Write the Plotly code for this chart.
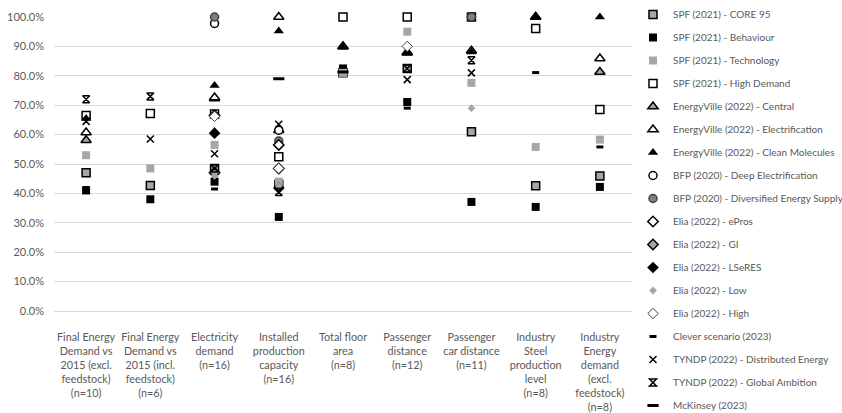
import plotly.graph_objects as go

# Indicator categories (x axis)
categories = [
    "Final Energy<br>Demand vs<br>2015 (excl.<br>feedstock)<br>(n=10)",
    "Final Energy<br>Demand vs<br>2015 (incl.<br>feedstock)<br>(n=6)",
    "Electricity<br>demand<br>(n=16)",
    "Installed<br>production<br>capacity<br>(n=16)",
    "Total floor<br>area<br>(n=8)",
    "Passenger<br>distance<br>(n=12)",
    "Passenger<br>car distance<br>(n=11)",
    "Industry<br>Steel<br>production<br>level<br>(n=8)",
    "Industry<br>Energy<br>demand<br>(excl.<br>feedstock)<br>(n=8)",
]

# Scenario values relative to reference (fraction), one entry per category
spf_core95 = [0.47, 0.427, 0.485, 0.43, 0.81, 0.825, 0.61, 0.426, 0.459]
spf_behaviour = [0.41, 0.38, 0.44, 0.32, 0.825, 0.711, 0.371, 0.354, 0.422]
spf_technology = [0.53, 0.485, 0.565, 0.44, 0.81, 0.95, 0.776, 0.558, 0.583]
spf_high_demand = [0.665, 0.672, 0.67, 0.525, 1.0, 1.0, 1.0, 0.961, 0.685]
ev_central = [0.581, None, 0.723, 0.615, 0.90, 0.88, 0.885, 1.0, 0.813]
ev_electrification = [0.607, None, 0.726, 1.0, 0.90, 0.878, None, 1.0, 0.859]
ev_clean_molecules = [0.655, None, 0.767, 0.952, 0.90, 0.878, 0.881, 1.0, 1.0]
bfp_deep_electrification = [None, None, 0.978, 0.615, None, None, 1.0, None, None]
bfp_diversified = [None, None, 1.0, 0.578, None, None, 1.0, None, None]
elia_epros = [None, None, 0.665, 0.565, None, None, None, None, None]
elia_gi = [None, None, 0.47, 0.485, None, None, None, None, None]
elia_lseres = [None, None, 0.605, 0.418, None, None, None, None, None]
elia_low = [None, None, 0.46, 0.425, None, None, 0.69, None, None]
elia_high = [None, None, 0.662, 0.485, None, 0.90, None, None, None]
clever = [0.42, None, 0.415, None, None, 0.69, None, 0.811, 0.558]
tyndp_de = [0.645, 0.585, 0.535, 0.635, None, 0.787, 0.81, None, None]
tyndp_ga = [0.72, 0.73, 0.485, 0.405, None, 0.825, 0.853, None, None]
mckinsey = [None, None, None, 0.79, 0.813, None, None, None, None]

GREY = "#A6A6A6"
BLACK = "#000000"
WHITE = "#FFFFFF"

# (name, values, symbol, size, fill colour, outline colour, outline width)
series = [
    ("SPF (2021) - CORE 95", spf_core95, "square", 8, GREY, BLACK, 1.5),
    ("SPF (2021) - Behaviour", spf_behaviour, "square", 8, BLACK, BLACK, 0),
    ("SPF (2021) - Technology", spf_technology, "square", 8, GREY, GREY, 0),
    ("SPF (2021) - High Demand", spf_high_demand, "square", 8, WHITE, BLACK, 1.5),
    ("EnergyVille (2022) - Central", ev_central, "triangle-up", 9, GREY, BLACK, 1.5),
    ("EnergyVille (2022) - Electrification", ev_electrification, "triangle-up", 9, WHITE, BLACK, 1.5),
    ("EnergyVille (2022) - Clean Molecules", ev_clean_molecules, "triangle-up", 9, BLACK, BLACK, 0),
    ("BFP (2020) - Deep Electrification", bfp_deep_electrification, "circle", 8, WHITE, BLACK, 1.5),
    ("BFP (2020) - Diversified Energy Supply", bfp_diversified, "circle", 8, "#7F7F7F", "#404040", 1.5),
    ("Elia (2022) - ePros", elia_epros, "diamond", 8, WHITE, BLACK, 1.5),
    ("Elia (2022) - GI", elia_gi, "diamond", 8, GREY, BLACK, 1.5),
    ("Elia (2022) - LSeRES", elia_lseres, "diamond", 9, BLACK, BLACK, 0),
    ("Elia (2022) - Low", elia_low, "diamond", 6, GREY, GREY, 0),
    ("Elia (2022) - High", elia_high, "diamond", 8, WHITE, "#404040", 1),
    ("Clever scenario (2023)", clever, "line-ew-open", 5, BLACK, BLACK, 3),
    ("TYNDP (2022) - Distributed Energy", tyndp_de, "x-thin-open", 7, BLACK, BLACK, 1.5),
    ("TYNDP (2022) - Global Ambition", tyndp_ga, "hourglass-open", 7, BLACK, BLACK, 1.5),
    ("McKinsey (2023)", mckinsey, "line-ew-open", 8, BLACK, BLACK, 3),
]

FONT = "Lato"
TEXT = "#595959"

fig = go.Figure()
for i, (name, vals, sym, size, fill, edge, lw) in enumerate(series):
    fig.add_trace(go.Scatter(
        x=categories,
        y=vals,
        mode="markers",
        name=name,
        legendgroup=f"g{i}",
        cliponaxis=False,
        marker=dict(symbol=sym, size=size, color=fill,
                    line=dict(color=edge, width=lw)),
    ))

fig.update_layout(
    width=842,
    height=413,
    paper_bgcolor="white",
    plot_bgcolor="white",
    margin=dict(l=54, r=210, t=17, b=102),
    font=dict(family=FONT, size=10, color=TEXT),
    showlegend=True,
    legend=dict(
        x=633 / 842, xref="container", xanchor="left",
        y=1.0, yref="container", yanchor="top",
        maxheight=440,
        font=dict(family=FONT, size=10, color=TEXT),
        tracegroupgap=4,
        borderwidth=0,
        bgcolor="rgba(0,0,0,0)",
    ),
    xaxis=dict(
        type="category",
        categoryorder="array",
        categoryarray=categories,
        range=[-0.5, len(categories) - 0.5],
        automargin=False,
        showgrid=False,
        showline=False,
        zeroline=False,
        ticks="",
        ticklabelstandoff=18,
        tickfont=dict(family=FONT, size=10.8, color=TEXT),
    ),
    yaxis=dict(
        range=[0, 1.0],
        dtick=0.1,
        tickformat=".1%",
        automargin=False,
        showgrid=True,
        gridcolor="#D9D9D9",
        gridwidth=1,
        zeroline=True,
        zerolinecolor="#D9D9D9",
        zerolinewidth=1,
        showline=False,
        ticks="",
        ticklabelstandoff=9,
        tickfont=dict(family=FONT, size=11, color=TEXT),
    ),
)

fig.write_html("out.html")
